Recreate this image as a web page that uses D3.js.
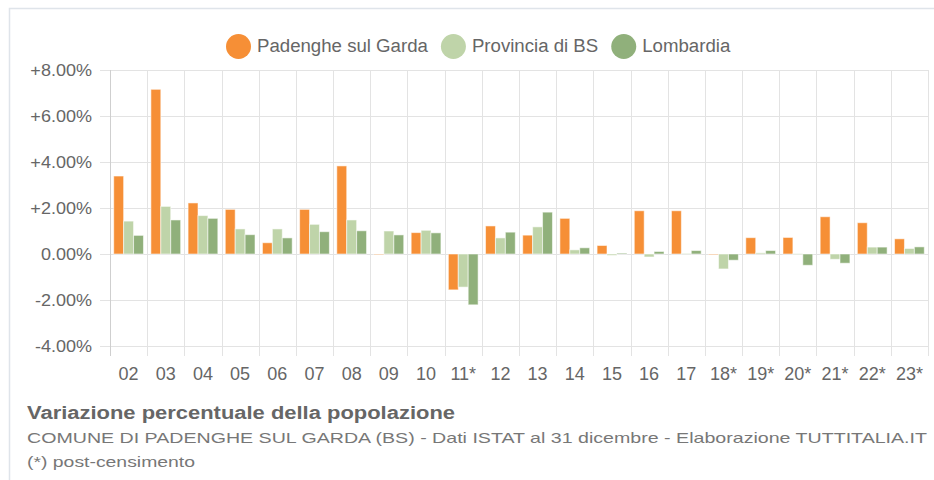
<!DOCTYPE html>
<html>
<head>
<meta charset="utf-8">
<script src="https://cdn.jsdelivr.net/npm/d3@7"></script>
<style>
  body { margin: 0; background: #fff; }
  svg { display: block; font-family: "Liberation Sans", Arial, sans-serif; }
</style>
</head>
<body>
<div id="chart"></div>
<script>
// year-on-year population change, three series per year

const years = ['02', '03', '04', '05', '06', '07', '08', '09', '10', '11*', '12',
  '13', '14', '15', '16', '17', '18*', '19*', '20*', '21*', '22*', '23*'];

const padenghe = [3.39, 7.16, 2.22, 1.94, 0.49, 1.94, 3.83, 0, 0.93, -1.56, 1.22,
  0.82, 1.55, 0.37, 1.88, 1.88, -0.03, 0.71, 0.72, 1.62, 1.36, 0.66];
const provincia = [1.43, 2.07, 1.67, 1.09, 1.09, 1.29, 1.48, 1.0, 1.03, -1.44, 0.70,
  1.18, 0.18, -0.06, -0.13, 0.02, -0.65, 0.05, 0.01, -0.23, 0.30, 0.24];
const lombardia = [0.81, 1.48, 1.55, 0.84, 0.70, 0.97, 1.01, 0.83, 0.92, -2.21, 0.95,
  1.82, 0.27, 0.04, 0.11, 0.15, -0.27, 0.15, -0.49, -0.40, 0.30, 0.31];

const seriesNames = ['Padenghe sul Garda', 'Provincia di BS', 'Lombardia'];
const seriesColors = ['#f68f36', '#bfd4a9', '#90b07b'];
const yTicks = [-4, -2, 0, 2, 4, 6, 8];

const W = 934, H = 480;
const margin = { left: 110, right: 6, top: 70, bottom: 134 };

function fmt(v) {
  const s = v.toFixed(2) + '%';
  return v > 0 ? '+' + s : s;
}

// the reference text runs a bit wider than the font, so stretch it
function stretch(sel, k) {
  sel.each(function () {
    const w = this.getComputedTextLength();
    d3.select(this)
      .attr('textLength', w * k)
      .attr('lengthAdjust', 'spacingAndGlyphs');
  });
}

function createChart() {
  const series = [padenghe, provincia, lombardia];

  const svg = d3.select('#chart').append('svg')
    .attr('width', W)
    .attr('height', H);

  // frame
  svg.append('path')
    .attr('d', `M9.5,${H} V8.5 H${W}`)
    .attr('fill', 'none')
    .attr('stroke', '#dfe4ea')
    .attr('stroke-width', 1.5);

  const x = d3.scaleBand()
    .domain(years)
    .range([margin.left, W - margin.right]);

  const x1 = d3.scaleBand()
    .domain(d3.range(series.length))
    .range([x.bandwidth() * 0.1, x.bandwidth() * 0.9]);

  const y = d3.scaleLinear()
    .domain([-4, 8])
    .range([H - margin.bottom, margin.top]);

  const grid = svg.append('g').attr('stroke', '#e3e3e3').attr('stroke-width', 1);

  grid.selectAll('line.h')
    .data(yTicks)
    .enter()
    .append('line')
    .attr('x1', margin.left - 10)
    .attr('x2', W - margin.right)
    .attr('y1', d => Math.round(y(d)) + 0.5)
    .attr('y2', d => Math.round(y(d)) + 0.5);

  const bounds = years.map(d => x(d)).concat([x.range()[1]]);
  grid.selectAll('line.v')
    .data(bounds)
    .enter()
    .append('line')
    .attr('x1', d => Math.round(d) + 0.5)
    .attr('x2', d => Math.round(d) + 0.5)
    .attr('y1', margin.top)
    .attr('y2', y(-4) + 10)
    .attr('stroke', (d, i) => i === 0 ? '#cfcfcf' : '#e3e3e3');

  // y axis labels
  svg.append('g')
    .selectAll('text')
    .data(yTicks)
    .enter()
    .append('text')
    .attr('x', 92)
    .attr('y', d => y(d))
    .attr('dy', '0.35em')
    .attr('text-anchor', 'end')
    .attr('fill', '#666')
    .style('font-size', '17px')
    .text(fmt)
    .call(stretch, 1.06);

  // x axis labels
  svg.append('g')
    .selectAll('text')
    .data(years)
    .enter()
    .append('text')
    .attr('x', d => x(d) + x.bandwidth() / 2)
    .attr('y', y(-4) + 34)
    .attr('text-anchor', 'middle')
    .attr('fill', '#666')
    .style('font-size', '18px')
    .text(d => d);

  // bars
  series.forEach((vals, s) => {
    svg.append('g')
      .selectAll('rect')
      .data(vals)
      .enter()
      .append('rect')
      .attr('x', (d, i) => x(years[i]) + x1(s))
      .attr('width', x1.bandwidth())
      .attr('y', d => y(Math.max(0, d)))
      .attr('height', d => Math.max(0.6, Math.abs(y(d) - y(0))))
      .attr('fill', seriesColors[s])
      .attr('stroke', 'rgba(255,255,255,0.55)')
      .attr('stroke-width', 1);
  });

  // legend
  const legend = svg.append('g').style('font-size', '18px');
  let lx = 226;
  seriesNames.forEach((name, i) => {
    const g = legend.append('g');
    g.append('circle')
      .attr('cx', lx + 12.5)
      .attr('cy', 46.5)
      .attr('r', 12.5)
      .attr('fill', seriesColors[i]);
    const t = g.append('text')
      .attr('x', lx + 31)
      .attr('y', 51.5)
      .attr('fill', '#666')
      .text(name);
    const w = t.node().getComputedTextLength() * 1.035;
    t.attr('textLength', w).attr('lengthAdjust', 'spacingAndGlyphs');
    lx += 31 + w + 13;
  });

  // titles
  svg.append('text')
    .attr('x', 27)
    .attr('y', 419)
    .attr('fill', '#666')
    .style('font-size', '18px')
    .style('font-weight', 'bold')
    .text('Variazione percentuale della popolazione')
    .attr('textLength', 428)
    .attr('lengthAdjust', 'spacingAndGlyphs');

  svg.append('text')
    .attr('x', 27)
    .attr('y', 443)
    .attr('fill', '#777')
    .style('font-size', '15px')
    .text('COMUNE DI PADENGHE SUL GARDA (BS) - Dati ISTAT al 31 dicembre - Elaborazione TUTTITALIA.IT')
    .attr('textLength', 900)
    .attr('lengthAdjust', 'spacingAndGlyphs');

  svg.append('text')
    .attr('x', 27)
    .attr('y', 467)
    .attr('fill', '#777')
    .style('font-size', '15px')
    .text('(*) post-censimento')
    .attr('textLength', 168)
    .attr('lengthAdjust', 'spacingAndGlyphs');
}

document.addEventListener('DOMContentLoaded', createChart);
</script>
</body>
</html>
